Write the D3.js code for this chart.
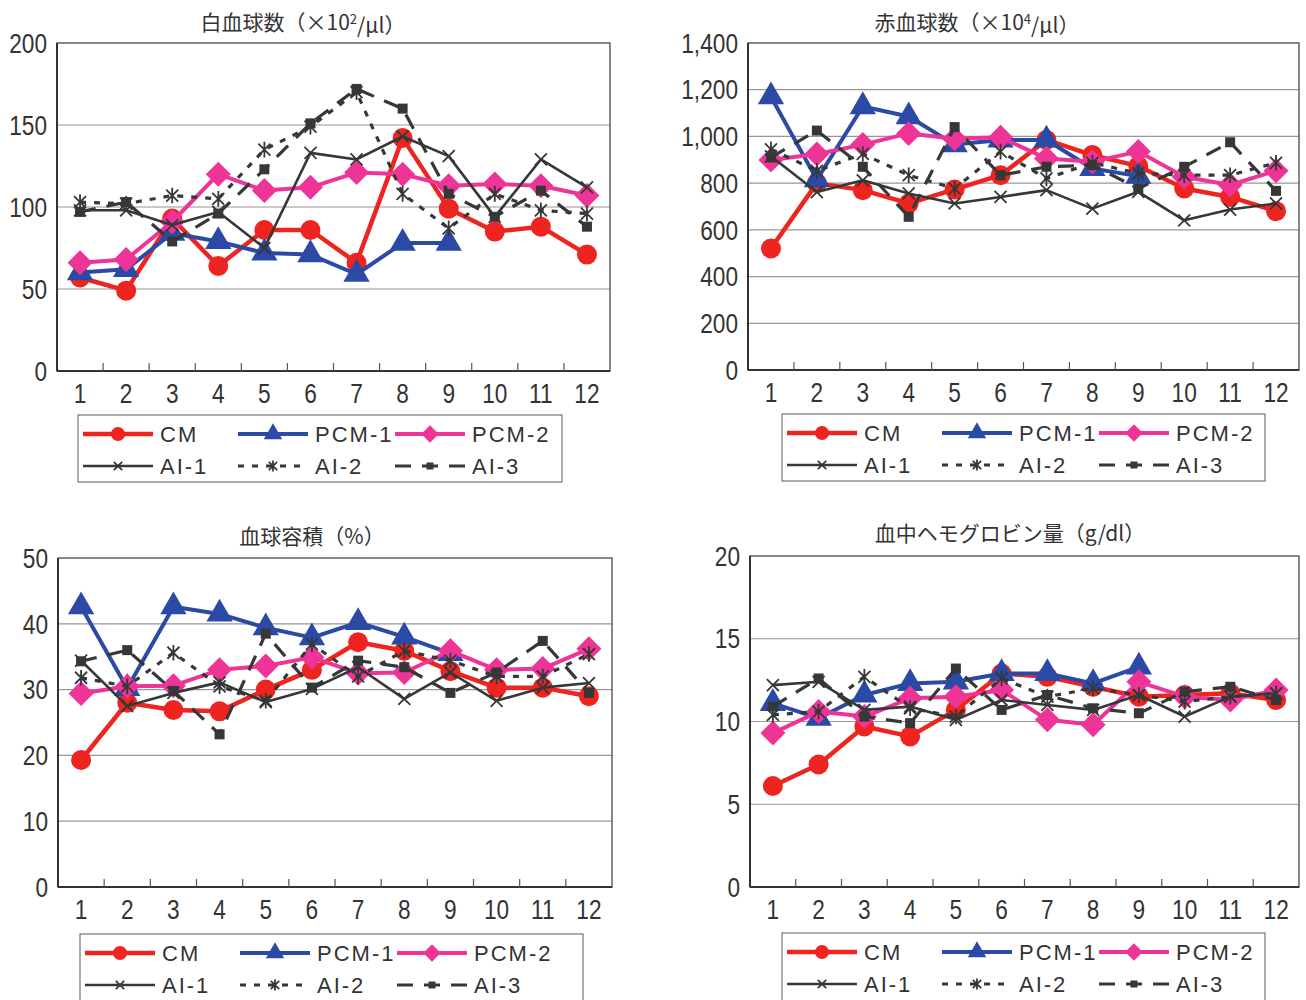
<!DOCTYPE html>
<html>
<head>
<meta charset="utf-8">
<script src="https://cdn.jsdelivr.net/npm/d3@7"></script>
<style>
  body { margin: 0; background: #fff; }
  svg { display: block; }
  .tick-num { font-family: "Liberation Sans", "DejaVu Sans", sans-serif; font-size: 27px; fill: #333; }
  .title { font-family: "Noto Sans CJK JP", "Noto Sans", sans-serif; font-size: 21px; fill: #333; }
  .leg { font-family: "Liberation Sans", "DejaVu Sans", sans-serif; font-size: 22px; fill: #333; letter-spacing: 2px; }
</style>
</head>
<body>
<div id="chart"></div>
<script>
const months = ['1','2','3','4','5','6','7','8','9','10','11','12'];
const seriesNames = ['CM', 'PCM-1', 'PCM-2', 'AI-1', 'AI-2', 'AI-3'];

// 白血球数 (x10^2/µl)
const wbcCM   = [57, 49, 93, 64, 86, 86, 66, 142, 99, 85, 88, 71];
const wbcPCM1 = [60, 62, 84, 79, 72, 71, 59, 78, 78, null, null, null];
const wbcPCM2 = [66, 68, 91, 120, 110, 112, 121, 120, 113, 114, 113, 107];
const wbcAI1  = [98, 98, 89, 97, 75, 133, 129, 143, 131, 94, 129, 112];
const wbcAI2  = [103, 102, 107, 105, 135, 149, 170, 108, 87, 108, 98, 96];
const wbcAI3  = [97, 103, 79, 96, 123, 151, 172, 160, 108, 94, 110, 88];

// 赤血球数 (x10^4/µl)
const rbcCM   = [520, 800, 770, 713, 773, 834, 985, 920, 873, 777, 741, 680];
const rbcPCM1 = [1170, 815, 1128, 1085, 965, 985, 985, 863, 830, null, null, null];
const rbcPCM2 = [899, 925, 965, 1013, 990, 996, 906, 892, 935, 827, 792, 853];
const rbcAI1  = [915, 762, 812, 756, 713, 741, 770, 691, 763, 641, 687, 713];
const rbcAI2  = [945, 853, 925, 834, 777, 935, 820, 887, 842, 834, 834, 887];
const rbcAI3  = [910, 1025, 870, 656, 1040, 834, 870, 877, 777, 870, 975, 767];

// 血球容積 (%)
const hctCM   = [19.3, 28, 26.9, 26.7, 30, 33, 37.2, 35.9, 32.8, 30.3, 30.3, 29];
const hctPCM1 = [42.6, 30.2, 42.6, 41.5, 39.4, 37.9, 40.2, 38, 35.5, null, null, null];
const hctPCM2 = [29.4, 30.5, 30.6, 33, 33.6, 34.9, 32.5, 32.6, 35.9, 33, 33.2, 36.2];
const hctAI1  = [34.4, 27.5, 29.5, 31.1, 28.1, 30.1, 33.4, 28.6, 32.6, 28.3, 30.3, 31];
const hctAI2  = [31.8, 30.5, 35.6, 30.5, 28.3, 36.9, 32, 35.9, 34.4, 32, 32, 35.4];
const hctAI3  = [34.3, 36, 29.8, 23.2, 38.5, 30.3, 34.4, 33.4, 29.5, 32.6, 37.4, 29.5];

// 血中ヘモグロビン量 (g/dl)
const hbCM   = [6.1, 7.4, 9.7, 9.1, 10.7, 12.9, 12.7, 12.1, 11.5, 11.6, 11.7, 11.3];
const hbPCM1 = [11.1, 10.2, 11.6, 12.3, 12.4, 12.9, 12.9, 12.3, 13.3, null, null, null];
const hbPCM2 = [9.3, 10.6, 10.3, 11.4, 11.5, 11.9, 10.1, 9.8, 12.4, 11.5, 11.3, 11.9];
const hbAI1  = [12.2, 12.4, 10.7, 10.9, 10.1, 11.3, 11, 10.7, 11.6, 10.3, 11.5, 11.7];
const hbAI2  = [10.4, 10.6, 12.7, 10.8, 10.3, 12.6, 11.5, 12, 11.6, 11.2, 11.5, 11.7];
const hbAI3  = [10.9, 12.6, 10.3, 9.9, 13.2, 10.7, 11.6, 10.8, 10.5, 11.8, 12.1, 11.3];

const styles = {
  'CM':    { color: '#ee2420', width: 4.5, dash: null,    marker: 'circle' },
  'PCM-1': { color: '#2b4aa6', width: 4,   dash: null,    marker: 'triangle' },
  'PCM-2': { color: '#ee3597', width: 4,   dash: null,    marker: 'diamond' },
  'AI-1':  { color: '#353836', width: 2.6, dash: null,    marker: 'x' },
  'AI-2':  { color: '#353836', width: 3.2, dash: '6,8',   marker: 'star' },
  'AI-3':  { color: '#353836', width: 3.2, dash: '16,11', marker: 'square' }
};

const panels = [
  { title: ['白血球数（×10', '2', '/μl）'], cx: 303, ty: 22,
    x0: 57, x1: 610, y0: 43, y1: 371, max: 200, step: 50,
    data: [wbcCM, wbcPCM1, wbcPCM2, wbcAI1, wbcAI2, wbcAI3],
    legend: { x: 78, y: 415, w: 484, h: 67 } },
  { title: ['赤血球数（×10', '4', '/μl）'], cx: 977, ty: 22,
    x0: 748, x1: 1299, y0: 43, y1: 370, max: 1400, step: 200,
    data: [rbcCM, rbcPCM1, rbcPCM2, rbcAI1, rbcAI2, rbcAI3],
    legend: { x: 782, y: 414, w: 483, h: 67 } },
  { title: ['血球容積（%）'], cx: 312, ty: 536,
    x0: 58, x1: 612, y0: 558, y1: 887, max: 50, step: 10,
    data: [hctCM, hctPCM1, hctPCM2, hctAI1, hctAI2, hctAI3],
    legend: { x: 80, y: 934, w: 503, h: 72 } },
  { title: ['血中ヘモグロビン量（g/dl）'], cx: 1010, ty: 533,
    x0: 750, x1: 1299, y0: 556, y1: 887, max: 20, step: 5,
    data: [hbCM, hbPCM1, hbPCM2, hbAI1, hbAI2, hbAI3],
    legend: { x: 782, y: 933, w: 483, h: 72 } }
];

const svg = d3.select('#chart').append('svg')
  .attr('width', 1306).attr('height', 1000);

function drawMarker(g, kind, color, s) {
  if (kind === 'circle') {
    g.append('circle').attr('r', 10 * s).attr('fill', color);
  } else if (kind === 'triangle') {
    g.append('path').attr('d', d3.symbol(d3.symbolTriangle, 300 * s * s)()).attr('fill', color);
  } else if (kind === 'diamond') {
    const r = 12.5 * s;
    g.append('path').attr('d', `M0,${-r}L${r},0L0,${r}L${-r},0Z`).attr('fill', color);
  } else if (kind === 'x') {
    const r = 6 * s;
    g.append('path').attr('d', `M${-r},${-r}L${r},${r}M${-r},${r}L${r},${-r}`)
      .attr('stroke', color).attr('stroke-width', 1.8).attr('fill', 'none');
  } else if (kind === 'star') {
    const r = 6 * s;
    g.append('path').attr('d', `M${-r},${-r}L${r},${r}M${-r},${r}L${r},${-r}M0,${-r * 1.3}L0,${r * 1.3}`)
      .attr('stroke', color).attr('stroke-width', 1.8).attr('fill', 'none');
  } else if (kind === 'square') {
    const r = 5 * s;
    g.append('rect').attr('x', -r).attr('y', -r).attr('width', 2 * r).attr('height', 2 * r).attr('fill', color);
  }
}

// narrow numeric label: squeeze horizontally around its anchor
function numLabel(g, px, py, anchor, str) {
  g.append('g').attr('transform', `translate(${px},${py}) scale(0.84,1)`)
    .append('text').attr('class', 'tick-num')
    .attr('dy', '0.36em').attr('text-anchor', anchor)
    .text(str);
}

panels.forEach(p => {
  const g = svg.append('g');
  const x = d3.scaleBand().domain(months).range([p.x0, p.x1]);
  const y = d3.scaleLinear().domain([0, p.max]).range([p.y1, p.y0]);
  const yTicks = d3.range(0, p.max + p.step / 2, p.step);

  // gridlines
  g.selectAll('.grid').data(yTicks.filter(t => t > 0 && t < p.max)).join('line')
    .attr('x1', p.x0).attr('x2', p.x1)
    .attr('y1', d => y(d)).attr('y2', d => y(d))
    .attr('stroke', '#9b9498').attr('stroke-width', 1.2);

  // frame
  g.append('rect').attr('x', p.x0).attr('y', p.y0)
    .attr('width', p.x1 - p.x0).attr('height', p.y1 - p.y0)
    .attr('fill', 'none').attr('stroke', '#555').attr('stroke-width', 1.4);
  g.append('line').attr('x1', p.x0).attr('x2', p.x0).attr('y1', p.y0).attr('y2', p.y1)
    .attr('stroke', '#333').attr('stroke-width', 2);
  g.append('line').attr('x1', p.x0).attr('x2', p.x1).attr('y1', p.y1).attr('y2', p.y1)
    .attr('stroke', '#333').attr('stroke-width', 2);

  // x ticks between categories
  g.selectAll('.xt').data(months.slice(1)).join('line')
    .attr('x1', d => x(d)).attr('x2', d => x(d))
    .attr('y1', p.y1).attr('y2', p.y1 - 8)
    .attr('stroke', '#555').attr('stroke-width', 1.2);

  // y labels
  yTicks.forEach(t => numLabel(g, p.x0 - 10, y(t), 'end', d3.format(',')(t)));

  // x labels
  months.forEach(m => numLabel(g, x(m) + x.bandwidth() / 2, p.y1 + 22, 'middle', m));

  // title
  const t = g.append('text').attr('class', 'title')
    .attr('x', p.cx).attr('y', p.ty).attr('dy', '0.36em').attr('text-anchor', 'middle');
  t.append('tspan').text(p.title[0]);
  if (p.title.length > 1) {
    t.append('tspan').attr('dy', '-0.45em').attr('font-size', '13px').text(p.title[1]);
    t.append('tspan').attr('dy', '0.45em').text(p.title[2]);
  }

  // series
  seriesNames.forEach((name, i) => {
    const st = styles[name];
    const vals = p.data[i];
    const pts = vals.map((v, j) => ({ m: months[j], v })).filter(d => d.v != null);
    const line = d3.line().x(d => x(d.m) + x.bandwidth() / 2).y(d => y(d.v));
    g.append('path').datum(pts)
      .attr('d', line)
      .attr('fill', 'none').attr('stroke', st.color)
      .attr('stroke-width', st.width)
      .attr('stroke-dasharray', st.dash)
      .attr('stroke-linejoin', 'round');
    pts.forEach(d => {
      const mg = g.append('g')
        .attr('transform', `translate(${x(d.m) + x.bandwidth() / 2},${y(d.v)})`);
      drawMarker(mg, st.marker, st.color, 1);
    });
  });

  // legend
  const L = p.legend;
  const lg = g.append('g');
  lg.append('rect').attr('x', L.x).attr('y', L.y).attr('width', L.w).attr('height', L.h)
    .attr('fill', '#fff').attr('stroke', '#777').attr('stroke-width', 1.2);
  const cols = [5, 160, 317];
  const rows = [19, 51];
  seriesNames.forEach((name, i) => {
    const st = styles[name];
    const lx = L.x + cols[i % 3];
    const ly = L.y + rows[Math.floor(i / 3)];
    lg.append('line').attr('x1', lx).attr('x2', lx + 70).attr('y1', ly).attr('y2', ly)
      .attr('stroke', st.color).attr('stroke-width', st.width)
      .attr('stroke-dasharray', st.dash);
    const mg = lg.append('g').attr('transform', `translate(${lx + 35},${ly})`);
    drawMarker(mg, st.marker, st.color, 0.7);
    lg.append('text').attr('class', 'leg')
      .attr('x', lx + 77).attr('y', ly).attr('dy', '0.36em')
      .text(name);
  });
});
</script>
</body>
</html>
